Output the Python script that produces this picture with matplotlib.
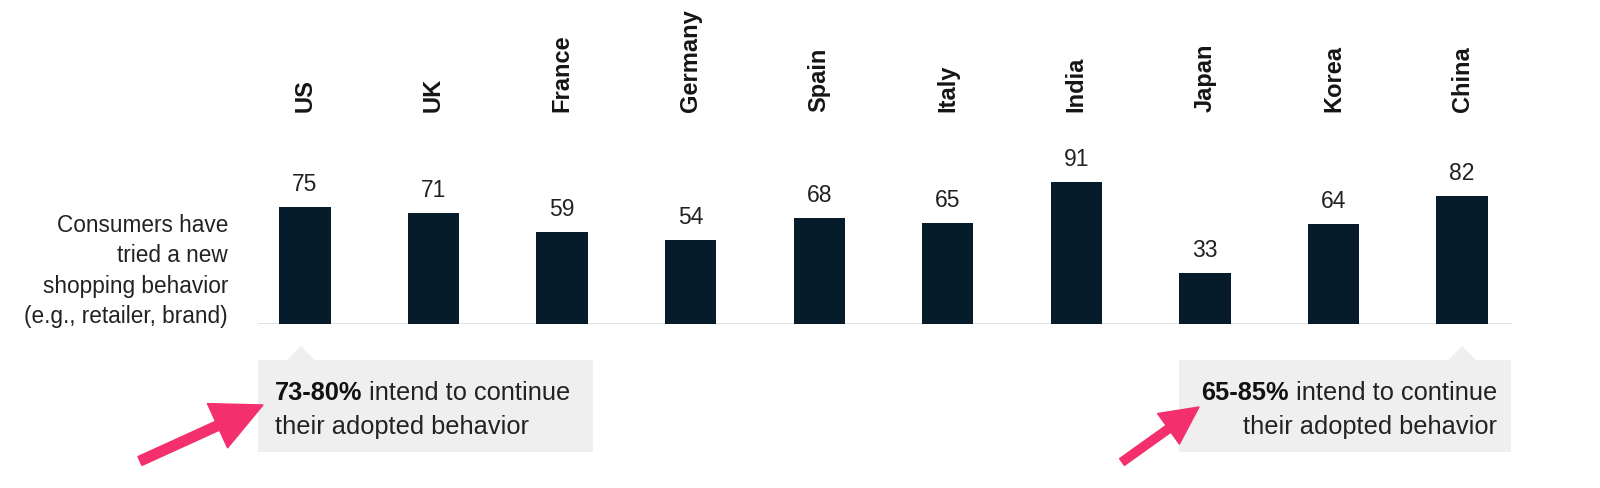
import matplotlib
matplotlib.use("Agg")
import matplotlib.pyplot as plt
from matplotlib.patches import Rectangle, Polygon, FancyArrowPatch

# ---- data ----
countries = ["US", "UK", "France", "Germany", "Spain", "Italy", "India", "Japan", "Korea", "China"]
values = [75, 71, 59, 54, 68, 65, 91, 33, 64, 82]
row_label = ["Consumers have", "tried a new", "shopping behavior", "(e.g., retailer, brand)"]
callout_left_bold = "73-80%"
callout_right_bold = "65-85%"
callout_rest = " intend to continue"
callout_line2 = "their adopted behavior"

W, H = 1600, 489
FONT = "Liberation Sans"
BAR = "#071c2b"
PINK = "#f42f6d"
BOXC = "#efefef"
TXT = "#222222"

fig = plt.figure(figsize=(W / 100, H / 100), dpi=100)
fig.patch.set_facecolor("white")


def fx(x):
    return x / W


def fy(y):
    return 1 - y / H


# axes: baseline at y=325px (from top), 1.56 px per unit
base_px = 325
ppu = 1.56
ax_left, ax_right = 258, 1512
ax_h = ppu * 100
ax = fig.add_axes([fx(ax_left), (H - base_px) / H, (ax_right - ax_left) / W, ax_h / H])
ax.set_ylim(0, 100)
step = (1462 - 305) / 9
ax.set_xlim(-(305 - ax_left) / step, 9 + (ax_right - 1462) / step)
ax.axis("off")
ax.axhline(0, color="#dcdcdc", lw=1.2, zorder=1)

xs = list(range(len(countries)))
ax.bar(xs, values, width=0.4, color=BAR, zorder=2)

for x, v in zip(xs, values):
    ax.annotate(str(v), (x, v), xytext=(0, 12.2), textcoords="offset points",
                ha="center", va="baseline", fontsize=16.5, family=FONT,
                color=TXT, annotation_clip=False)

label_y = (H - 112 - (H - base_px)) / ppu
for x, c in zip(xs, countries):
    ax.text(x, label_y, c, rotation=90, ha="center", va="bottom",
            fontsize=17, fontweight="bold", family=FONT, color="#151515",
            clip_on=False)

# left row label
for i, line in enumerate(row_label):
    fig.text(fx(228), fy(232 + i * 30.3), line, ha="right", va="baseline",
             fontsize=16.3, family=FONT, color=TXT)

# callout boxes
fig.patches.append(Rectangle((fx(258), fy(453)), fx(593) - fx(258), fy(361) - fy(453),
                             transform=fig.transFigure, facecolor=BOXC, edgecolor="none"))
fig.patches.append(Polygon([(fx(287), fy(361.5)), (fx(301), fy(347)), (fx(315), fy(361.5))],
                           closed=True, transform=fig.transFigure, facecolor=BOXC, edgecolor="none"))
fig.patches.append(Rectangle((fx(1179), fy(453)), fx(1511) - fx(1179), fy(361) - fy(453),
                             transform=fig.transFigure, facecolor=BOXC, edgecolor="none"))
fig.patches.append(Polygon([(fx(1448), fy(361.5)), (fx(1462), fy(347)), (fx(1477), fy(361.5))],
                           closed=True, transform=fig.transFigure, facecolor=BOXC, edgecolor="none"))

CFS = 18.3
fig.canvas.draw()
renderer = fig.canvas.get_renderer()

# left callout text
tb = fig.text(fx(275), fy(400), callout_left_bold, ha="left", va="baseline",
              fontsize=CFS, fontweight="bold", family=FONT, color="#111111")
bb = tb.get_window_extent(renderer)
fig.text(bb.x1 / W, fy(400), callout_rest, ha="left", va="baseline",
         fontsize=CFS, family=FONT, color=TXT)
fig.text(fx(275), fy(434), callout_line2, ha="left", va="baseline",
         fontsize=CFS, family=FONT, color=TXT)

# right callout text (right aligned)
tr = fig.text(fx(1497), fy(400), callout_rest, ha="right", va="baseline",
              fontsize=CFS, family=FONT, color=TXT)
bbr = tr.get_window_extent(renderer)
fig.text(bbr.x0 / W, fy(400), callout_right_bold, ha="right", va="baseline",
         fontsize=CFS, fontweight="bold", family=FONT, color="#111111")
fig.text(fx(1497), fy(434), callout_line2, ha="right", va="baseline",
         fontsize=CFS, family=FONT, color=TXT)

# pink arrows
a1 = FancyArrowPatch((fx(140), fy(462)), (fx(263), fy(406)), transform=fig.transFigure,
                     arrowstyle="simple,head_length=3.6,head_width=3.5,tail_width=0.7",
                     mutation_scale=10, color=PINK, shrinkA=0, shrinkB=0)
a2 = FancyArrowPatch((fx(1122), fy(463)), (fx(1199), fy(408)), transform=fig.transFigure,
                     arrowstyle="simple,head_length=2.7,head_width=2.7,tail_width=0.6",
                     mutation_scale=10, color=PINK, shrinkA=0, shrinkB=0)
fig.patches.append(a1)
fig.patches.append(a2)

fig.savefig("out.png", dpi=100, facecolor="white")
